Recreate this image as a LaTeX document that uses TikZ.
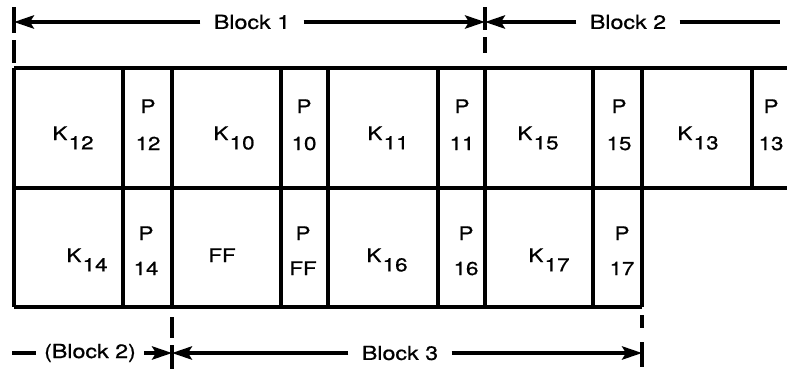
\documentclass[tikz,border=0pt]{standalone}
\usepackage{fontspec}
\setmainfont{TeX Gyre Heros}[FakeStretch=1.2, FakeBold=0.8]
\usetikzlibrary{arrows.meta}

\newcommand{\Ksub}[1]{K\kern1pt\lower7pt\hbox{#1}}

\begin{document}
\begin{tikzpicture}[x=0.75pt,y=-0.75pt,
    rule/.style={line width=2.5pt},
    dim/.style={line width=2.5pt, -{Stealth[length=15pt,width=10pt,inset=3pt]}},
    lbl/.style={font=\fontsize{14}{16}\selectfont, inner sep=0pt, anchor=base},
    blk/.style={font=\fontsize{14.5}{17}\selectfont, inner ysep=0pt, inner xsep=10pt}]

    \useasboundingbox (0,0) rectangle (787,369);

    % 1. Frame of the two rows
    \draw[rule] (14,68) -- (787,68);
    \draw[rule] (14,188) -- (787,188);
    \draw[rule] (14,307) -- (642,307);
    \foreach \x in {14,123,172,281,328,438,485,593,642,752} {
        \draw[rule] (\x,68) -- (\x,188);
    }
    \foreach \x in {14,123,172,281,328,438,485,593,642} {
        \draw[rule] (\x,188) -- (\x,307);
    }

    % 2. Labels of the upper row
    \foreach \x/\n in {73/12, 234/10, 388/11, 538/15, 698/13} {
        \node[lbl] (k\n) at (\x,140) {\Ksub{\n}};
    }
    \foreach \x/\n in {148/12, 304/10, 462/11, 619/15, 771/13} {
        \node[lbl] (p\n) at (\x,113) {P};
        \node[lbl] (pn\n) at (\x,150) {\n};
    }

    % 3. Labels of the lower row
    \foreach \x/\n in {87/14, 387/16, 549/17} {
        \node[lbl] (k\n) at (\x,262) {\Ksub{\n}};
    }
    \node[lbl] (ff) at (222,262) {FF};
    \foreach \x/\n in {146/14, 303/FF, 466/16, 622/17} {
        \node[lbl] (p\n) at (\x,240) {P};
        \node[lbl] (pn\n) at (\x,275) {\n};
    }

    % 4. Ticks of the block limits
    \draw[rule] (14,7) -- (14,33);   \draw[rule] (14,40) -- (14,63);
    \draw[rule] (485,7) -- (485,30); \draw[rule] (485,37) -- (485,53);
    \draw[rule] (172,317) -- (172,338); \draw[rule] (172,345) -- (172,369);
    \draw[rule] (642,315) -- (642,328); \draw[rule] (642,342) -- (642,367);

    \coordinate (b1l) at (14,22);
    \coordinate (b1r) at (485,22);
    \coordinate (b2r) at (780,22);
    \coordinate (b2l) at (12,353);
    \coordinate (b3l) at (172,353);
    \coordinate (b3r) at (642,353);

    % 5. Block dimension lines
    \node[blk] (blk1) at (252,22) {Block 1};
    \draw[dim] (blk1.west) -- (b1l);
    \draw[dim] (blk1.east) -- (b1r);

    \node[blk] (blk2) at (628,22) {Block 2};
    \draw[dim] (blk2.west) -- (b1r);
    \draw[rule] (blk2.east) -- (b2r);

    \node[blk, inner xsep=6pt] (blk2b) at (90,353) {(Block 2)};
    \draw[rule] (b2l) -- (blk2b.west);
    \draw[dim] (blk2b.east) -- (b3l);

    \node[blk] (blk3) at (400,353) {Block 3};
    \draw[dim] (blk3.west) -- (b3l);
    \draw[dim] (blk3.east) -- (b3r);

\end{tikzpicture}
\end{document}
